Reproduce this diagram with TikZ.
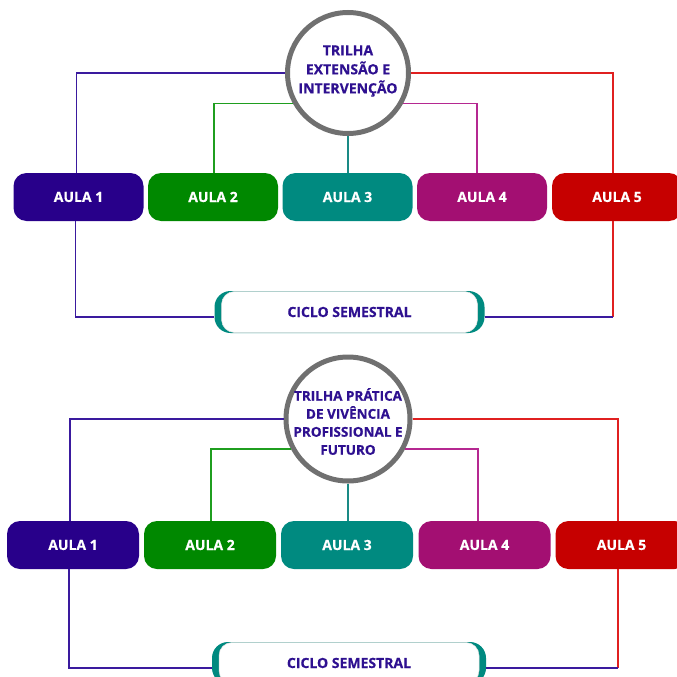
\documentclass[tikz,border=0pt]{standalone}
\usepackage{fontspec}
\setmainfont{Open Sans}[BoldFeatures={FakeBold=0.5}]
\definecolor{fillA}{HTML}{28008A}
\definecolor{fillB}{HTML}{008800}
\definecolor{fillC}{HTML}{008A80}
\definecolor{fillD}{HTML}{A30F72}
\definecolor{fillE}{HTML}{C60000}
\definecolor{lineA}{HTML}{3A1A9E}
\definecolor{lineB}{HTML}{1F9E1F}
\definecolor{lineC}{HTML}{1A8A85}
\definecolor{lineD}{HTML}{B52891}
\definecolor{lineE}{HTML}{E02020}
\definecolor{txtp}{HTML}{2E1090}
\definecolor{hubgray}{HTML}{707070}
\begin{document}
\begin{tikzpicture}[x=1pt,y=-1pt,
  aula/.style={rounded corners=13pt, minimum height=48pt, text=white, inner sep=0pt,
    font=\bfseries\fontsize{14}{16}\selectfont},
  hub/.style={circle, draw=hubgray, line width=5pt, fill=white, inner sep=0pt},
  hubtext/.style={text=txtp, align=center, inner sep=0pt, font=\bfseries\fontsize{14}{19}\selectfont},
  ciclo/.style={fill=fillC, rounded corners=16pt, minimum height=42pt, inner sep=0pt},
  cicloin/.style={fill=white, draw=black!12, line width=0.5pt, rounded corners=13pt, minimum height=41pt,
    inner sep=0pt, text=txtp, font=\bfseries\fontsize{14}{16}\selectfont},
  conn/.style={line width=1.8pt},
]
\useasboundingbox (0,0) rectangle (677,677);
\clip (0,0) rectangle (677,677);

% ================= TOP =================
\node[hub, minimum size=121pt] (c1) at (348,73) {};
\node[hubtext] (c1t) at ([yshift=2pt]c1.center) {TRILHA\\EXTENSÃO E\\INTERVENÇÃO};

\node[aula, minimum width=130pt, fill=fillA] (a1) at (78.5,197) {AULA 1};
\node[aula, minimum width=130pt, fill=fillB] (a2) at (213,197) {AULA 2};
\node[aula, minimum width=130pt, fill=fillC] (a3) at (347.5,197) {AULA 3};
\node[aula, minimum width=130pt, fill=fillD] (a4) at (482,197) {AULA 4};
\node[aula, minimum width=130pt, fill=fillE] (a5) at (617,197) {AULA 5};

\node[ciclo, minimum width=270pt] (s1) at (349.5,312) {};
\node[cicloin, minimum width=256pt] (s1t) at (s1.center) {CICLO SEMESTRAL};

\coordinate (p1t) at ([xshift=-2pt]a1.north);
\coordinate (p1b) at ([xshift=-3pt]a1.south);
\coordinate (g2) at ([xshift=1pt]a2.north);
\coordinate (m4) at ([xshift=-5pt]a4.north);
\coordinate (r5) at ([xshift=-4pt]a5.north);
\coordinate (r5b) at ([xshift=-4pt]a5.south);
\coordinate (s1l) at ([yshift=-5pt]s1.west);
\coordinate (s1r) at ([yshift=-5pt]s1.east);

\draw[conn, lineA] (c1.west) -- (c1.west -| p1t) -- (p1t);
\draw[conn, lineB] (c1.209) -- (c1.209 -| g2) -- (g2);
\draw[conn, lineC] (c1.south) -- (c1.south |- a3.north);
\draw[conn, lineD] (c1.-29) -- (c1.-29 -| m4) -- (m4);
\draw[conn, lineE] (c1.east) -- (c1.east -| r5) -- (r5);
\draw[conn, lineA] (p1b) -- (p1b |- s1l) -- (s1l);
\draw[conn, lineE] (r5b) -- (r5b |- s1r);
\draw[conn, lineA] (r5b |- s1r) -- (s1r);

% ================= BOTTOM =================
\node[hub, minimum size=124pt] (c2) at (348,419) {};
\node[hubtext, font=\bfseries\fontsize{13.5}{18}\selectfont] (c2t) at ([yshift=-2.5pt]c2.center) {TRILHA PRÁTICA\\DE VIVÊNCIA\\PROFISSIONAL E\\FUTURO};

\node[aula, minimum width=132pt, fill=fillA] (b1) at (73,545) {AULA 1};
\node[aula, minimum width=132pt, fill=fillB] (b2) at (210,545) {AULA 2};
\node[aula, minimum width=132pt, fill=fillC] (b3) at (347,545) {AULA 3};
\node[aula, minimum width=132pt, fill=fillD] (b4) at (484.5,545) {AULA 4};
\node[aula, minimum width=132pt, fill=fillE] (b5) at (621.5,545) {AULA 5};

\node[ciclo, minimum width=274pt] (s2) at (349,663) {};
\node[cicloin, minimum width=260pt] (s2t) at (s2.center) {CICLO SEMESTRAL};

\coordinate (q1t) at ([xshift=-3pt]b1.north);
\coordinate (q1b) at ([xshift=-4pt]b1.south);
\coordinate (h2) at ([xshift=1pt]b2.north);
\coordinate (n4) at ([xshift=-6.5pt]b4.north);
\coordinate (t5) at ([xshift=-3.5pt]b5.north);
\coordinate (t5b) at ([xshift=-3.5pt]b5.south);
\coordinate (s2l) at ([yshift=-5pt]s2.west);
\coordinate (s2r) at ([yshift=-5pt]s2.east);

\draw[conn, lineA] (c2.west) -- (c2.west -| q1t) -- (q1t);
\draw[conn, lineB] (c2.208) -- (c2.208 -| h2) -- (h2);
\draw[conn, lineC] (c2.south) -- (c2.south |- b3.north);
\draw[conn, lineD] (c2.-28) -- (c2.-28 -| n4) -- (n4);
\draw[conn, lineE] (c2.east) -- (c2.east -| t5) -- (t5);
\draw[conn, lineA] (q1b) -- (q1b |- s2l) -- (s2l);
\draw[conn, lineE] (t5b) -- (t5b |- s2r);
\draw[conn, lineA] (t5b |- s2r) -- (s2r);
\end{tikzpicture}
\end{document}
